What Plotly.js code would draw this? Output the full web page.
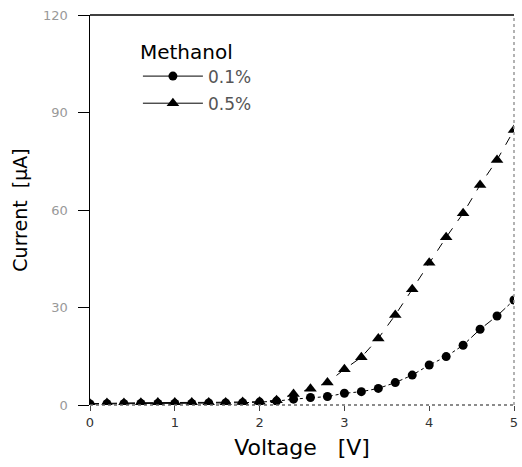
<!DOCTYPE html>
<html><head><meta charset="utf-8">
<script src="https://cdn.plot.ly/plotly-3.0.1.min.js"></script>
<style>html,body{margin:0;padding:0;background:#fff}</style>
</head><body>
<div id="chart" style="width:522px;height:467px"></div>
<script>
const voltage = [0,0.2,0.4,0.6,0.8,1.0,1.2,1.4,1.6,1.8,2.0,2.2,2.4,2.6,2.8,3.0,3.2,3.4,3.6,3.8,4.0,4.2,4.4,4.6,4.8,5.0];
const current01 = [0.3,0.4,0.4,0.5,0.5,0.5,0.5,0.6,0.6,0.7,0.9,1.2,1.8,2.3,2.6,3.6,4.1,5.1,6.9,9.2,12.3,14.9,18.4,23.3,27.4,32.3];
const current05 = [0.4,0.6,0.6,0.7,0.8,0.8,0.8,0.8,0.8,0.9,1.0,1.5,3.4,5.0,6.9,11.0,14.7,20.5,27.7,35.6,43.8,51.6,59.0,67.7,75.4,84.6];
const seriesNames = ['0.1%','0.5%'];
const legendTitle = 'Methanol';
const xTicks = [0,1,2,3,4,5];
const yTicks = [0,30,60,90,120];

const FONT = 'DejaVu Sans, Verdana, sans-serif';
const traces = [
  {x: voltage, y: current01, name: seriesNames[0], mode:'lines+markers', type:'scatter', showlegend:false,
   line:{color:'#000', width:1, dash:'dashdot'}, marker:{symbol:'circle', size:9, color:'#000'}},
  {x: voltage, y: current05, name: seriesNames[1], mode:'lines+markers', type:'scatter', showlegend:false,
   line:{color:'#000', width:1, dash:'dash'}, marker:{symbol:'triangle-up', size:11, color:'#000'}},
  // legend-only entries (solid legend lines as in the reference)
  {x:[null], y:[null], name: seriesNames[0], mode:'lines+markers', type:'scatter', legendgroup:'a',
   line:{color:'#000', width:1}, marker:{symbol:'circle', size:9, color:'#000'}},
  {x:[null], y:[null], name: seriesNames[1], mode:'lines+markers', type:'scatter', legendgroup:'b',
   line:{color:'#000', width:1}, marker:{symbol:'triangle-up', size:11, color:'#000'}}
];
const layout = {
  width:522, height:467,
  margin:{l:90, r:8, t:15, b:62},
  paper_bgcolor:'#fff', plot_bgcolor:'#fff',
  font:{family:FONT, color:'#000'},
  showlegend:true,
  legend:{x:0.113, y:0.955, xanchor:'left', yanchor:'top', bgcolor:'rgba(0,0,0,0)',
    title:{text:legendTitle, font:{size:20, color:'#000', family:FONT}},
    font:{size:17, color:'#555', family:FONT}, tracegroupgap:2, itemwidth:60},
  xaxis:{range:[0,5], tickvals:xTicks, ticks:'outside', ticklen:5, tickcolor:'#444',
    showgrid:false, zeroline:false, showline:false,
    tickfont:{size:13, color:'#333', family:FONT},
    title:{text:'Voltage   [V]', font:{size:22, color:'#000', family:FONT}, standoff:11}},
  yaxis:{range:[0,120], tickvals:yTicks, ticks:'outside', ticklen:11, tickcolor:'#000',
    showgrid:false, zeroline:false, showline:true, linecolor:'#000', linewidth:1.5,
    ticklabelstandoff:7,
    tickfont:{size:13, color:'#999', family:FONT},
    title:{text:'Current  [µA]', font:{size:19, color:'#000', family:FONT}, standoff:10}},
  shapes:[
    {type:'line', xref:'paper', yref:'paper', x0:0, x1:1, y0:1, y1:1, line:{color:'#000', width:1.5}},
    {type:'line', xref:'paper', yref:'paper', x0:0, x1:1, y0:0, y1:0, line:{color:'#666', width:1.5, dash:'dot'}},
    {type:'line', xref:'paper', yref:'paper', x0:1, x1:1, y0:0, y1:1, line:{color:'#999', width:1.5, dash:'dot'}}
  ]
};
Plotly.newPlot('chart', traces, layout, {displayModeBar:false, staticPlot:true});
</script>
</body></html>
